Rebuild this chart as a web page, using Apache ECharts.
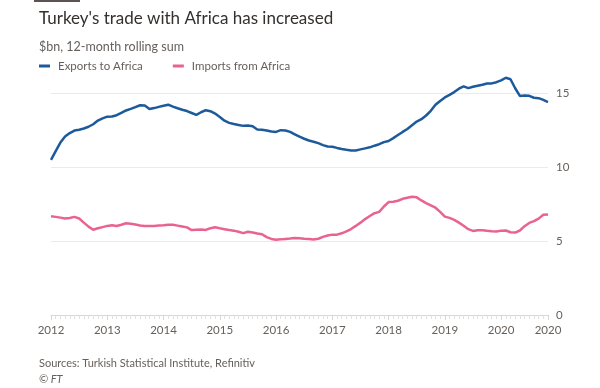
<!DOCTYPE html>
<html>
<head>
<meta charset="utf-8">
<script src="https://cdn.jsdelivr.net/npm/echarts@6/dist/echarts.min.js"></script>
<style>
html,body{margin:0;padding:0;background:#fff;}
#chart{width:600px;height:388px;}
</style>
</head>
<body>
<div id="chart"></div>
<script>
// Monthly data, Jan 2012 .. Nov 2020 ($bn, 12-month rolling sum)
const startYear = 2012;
const yearTicks = [2012, 2013, 2014, 2015, 2016, 2017, 2018, 2019, 2020];
const yTicks = [0, 5, 10, 15];
const exportsToAfrica = [
  10.48, 11.07, 11.65, 12.06, 12.29, 12.46, 12.52, 12.60, 12.72, 12.89, 13.14, 13.29,
  13.40, 13.41, 13.50, 13.66, 13.82, 13.93, 14.05, 14.17, 14.16, 13.92, 13.98, 14.06,
  14.14, 14.21, 14.08, 13.97, 13.87, 13.78, 13.65, 13.52, 13.70, 13.84, 13.77, 13.61,
  13.38, 13.13, 12.98, 12.90, 12.84, 12.78, 12.80, 12.76, 12.54, 12.51, 12.47, 12.40,
  12.37, 12.49, 12.47, 12.37, 12.21, 12.05, 11.91, 11.79, 11.71, 11.61, 11.48, 11.39,
  11.37, 11.29, 11.22, 11.16, 11.12, 11.12, 11.19, 11.26, 11.33, 11.44, 11.54, 11.68,
  11.76, 11.95, 12.16, 12.37, 12.57, 12.82, 13.07, 13.23, 13.48, 13.80, 14.20, 14.46,
  14.70, 14.87, 15.06, 15.29, 15.45, 15.33, 15.42, 15.49, 15.56, 15.64, 15.65, 15.73,
  15.85, 16.03, 15.93, 15.32, 14.80, 14.83, 14.81, 14.68, 14.65, 14.54, 14.39
];
const importsFromAfrica = [
  6.67, 6.63, 6.58, 6.52, 6.55, 6.63, 6.52, 6.24, 5.97, 5.76, 5.86, 5.94,
  6.02, 6.06, 6.01, 6.10, 6.20, 6.17, 6.11, 6.05, 6.02, 6.01, 6.02, 6.04,
  6.06, 6.10, 6.10, 6.04, 5.98, 5.92, 5.74, 5.76, 5.77, 5.75, 5.86, 5.93,
  5.86, 5.80, 5.74, 5.70, 5.62, 5.53, 5.62, 5.58, 5.51, 5.46, 5.26, 5.14,
  5.09, 5.11, 5.14, 5.17, 5.21, 5.18, 5.15, 5.13, 5.10, 5.15, 5.28, 5.37,
  5.43, 5.43, 5.52, 5.65, 5.81, 6.02, 6.24, 6.48, 6.69, 6.88, 6.97, 7.33,
  7.63, 7.65, 7.72, 7.85, 7.92, 7.99, 7.95, 7.74, 7.56, 7.41, 7.25, 6.97,
  6.65, 6.56, 6.43, 6.24, 6.03, 5.80, 5.68, 5.72, 5.73, 5.69, 5.66, 5.64,
  5.70, 5.71, 5.59, 5.57, 5.71, 6.00, 6.22, 6.34, 6.51, 6.77, 6.79
];

const toPairs = arr => arr.map((v, i) => [startYear + i / 12, v]);
const xMax = startYear + (exportsToAfrica.length - 1) / 12;

const FONT = 'Lato, "Open Sans", sans-serif';
const chart = echarts.init(document.getElementById('chart'));
chart.setOption({
  backgroundColor: '#ffffff',
  animation: false,
  textStyle: { fontFamily: FONT },
  title: [
    { text: "Turkey's trade with Africa has increased", left: 34, top: 5,
      textStyle: { fontFamily: FONT, fontSize: 17, fontWeight: 'normal', color: '#33302e' } },
    { text: '$bn, 12-month rolling sum', left: 34, top: 35,
      textStyle: { fontFamily: FONT, fontSize: 12.5, fontWeight: 'normal', color: '#66605c' } },
    { text: 'Sources: Turkish Statistical Institute, Refinitiv', left: 34, top: 353,
      textStyle: { fontFamily: FONT, fontSize: 11, fontWeight: 'normal', color: '#66605c' } },
    { text: '© FT', left: 34, top: 369,
      textStyle: { fontFamily: FONT, fontSize: 11, fontWeight: 'normal', fontStyle: 'italic', color: '#66605c' } }
  ],
  graphic: [
    { type: 'rect', shape: { x: 34, y: 0, width: 46, height: 2 }, style: { fill: '#5a5552' } }
  ],
  legend: {
    left: 34, top: 55,
    icon: 'rect', itemWidth: 11, itemHeight: 3, itemGap: 30,
    textStyle: { fontFamily: FONT, fontSize: 11.5, color: '#66605c', padding: [0, 0, 0, 3] },
    data: ['Exports to Africa', 'Imports from Africa']
  },
  grid: { left: 51, right: 52, top: 93, bottom: 73, containLabel: false },
  xAxis: {
    type: 'value', min: startYear, max: xMax, interval: 1,
    axisLine: { show: true, lineStyle: { color: '#d9d6d3', width: 1 } },
    axisTick: { show: true, length: 5, lineStyle: { color: '#d9d6d3' } },
    minorTick: { show: true, splitNumber: 12, length: 4, lineStyle: { color: '#e2dfdc' } },
    splitLine: { show: false },
    axisLabel: {
      margin: 9, color: '#66605c', fontSize: 11.5, fontFamily: FONT,
      showMaxLabel: true, showMinLabel: true, hideOverlap: false,
      formatter: v => String(Math.floor(v + 1e-6))
    }
  },
  yAxis: {
    type: 'value', position: 'right', min: yTicks[0], max: yTicks[yTicks.length - 1], interval: 5,
    axisLine: { show: false }, axisTick: { show: false },
    splitLine: { show: true, lineStyle: { color: '#ece9e6', width: 1 } },
    axisLabel: { margin: 8, color: '#66605c', fontSize: 11.5, fontFamily: FONT, verticalAlign: 'middle' }
  },
  series: [
    { name: 'Exports to Africa', type: 'line', data: toPairs(exportsToAfrica), showSymbol: false,
      clip: false, lineStyle: { color: '#1d5a9c', width: 2.5 }, itemStyle: { color: '#1d5a9c' } },
    { name: 'Imports from Africa', type: 'line', data: toPairs(importsFromAfrica), showSymbol: false,
      clip: false, lineStyle: { color: '#e9638f', width: 2.5 }, itemStyle: { color: '#e9638f' } }
  ]
});
</script>
</body>
</html>
